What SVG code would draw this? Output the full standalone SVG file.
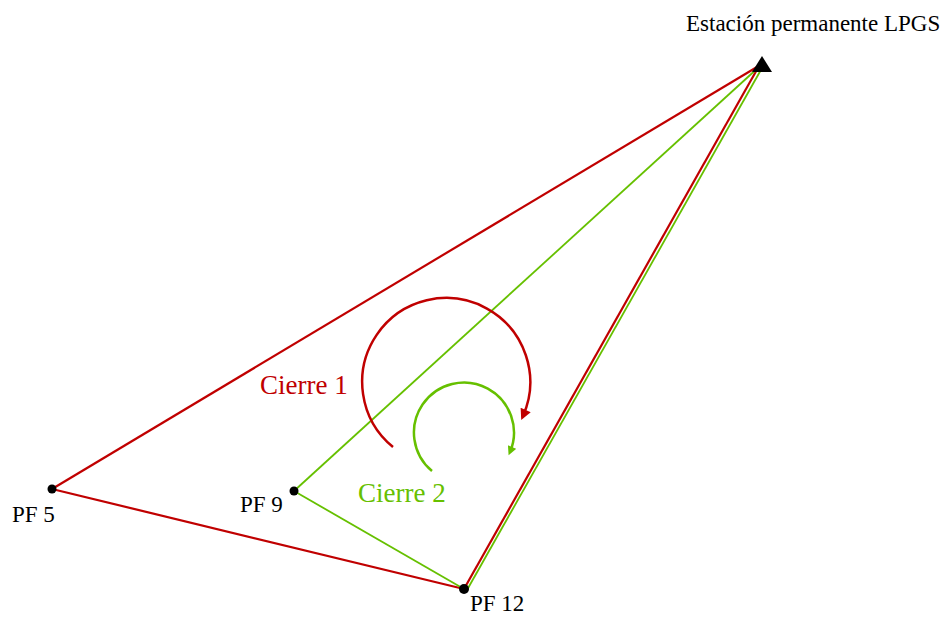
<svg xmlns="http://www.w3.org/2000/svg" width="945" height="617" viewBox="0 0 945 617">
<style>
.red{stroke:#c00000;stroke-width:2.2;fill:none}
.grn{stroke:#66c000;stroke-width:1.8;fill:none}
.lbl{font-family:"Liberation Serif",serif;fill:#000;font-size:23px}
.big{font-family:"Liberation Serif",serif;font-size:27px}
.pt{fill:#000}
</style>
<defs>
<marker id="ar" viewBox="0 0 10 10" refX="6" refY="5" markerWidth="12" markerHeight="11" orient="auto" markerUnits="userSpaceOnUse"><path d="M0,0 L10,5 L0,10 z" fill="#c00000"/></marker>
<marker id="ag" viewBox="0 0 10 10" refX="6" refY="5" markerWidth="10" markerHeight="9" orient="auto" markerUnits="userSpaceOnUse"><path d="M0,0 L10,5 L0,10 z" fill="#66c000"/></marker>
</defs>
<rect width="945" height="617" fill="#fff"/>
<g id="connectors">
<line class="red" x1="757" y1="67" x2="52" y2="489"/>
<line class="red" x1="52" y1="489" x2="464" y2="589"/>
<line class="red" x1="464" y1="589" x2="759" y2="66"/>
<line class="grn" x1="760" y1="66" x2="294" y2="491"/>
<line class="grn" x1="294" y1="491" x2="464" y2="589"/>
<line class="grn" x1="467" y1="590" x2="762" y2="68"/>
<path class="red" d="M393,447 A84,84 0 1 1 523,416" marker-end="url(#ar)" style="stroke-width:2.5"/>
<path class="grn" d="M432,471 A50,50 0 1 1 510,452" marker-end="url(#ag)" style="stroke-width:2.5"/>
</g>
<g id="lpgs">
<path class="pt" d="M762,56 L772,72 L752,72 z"/>
<text class="lbl" x="686" y="31">Estación permanente LPGS</text>
</g>
<g id="pf5">
<circle class="pt" cx="52" cy="489" r="4.5"/>
<text class="lbl" x="12" y="522">PF 5</text>
</g>
<g id="pf9">
<circle class="pt" cx="294" cy="491" r="4.5"/>
<text class="lbl" x="240" y="512">PF 9</text>
</g>
<g id="pf12">
<circle class="pt" cx="464" cy="589" r="5"/>
<text class="lbl" x="470" y="611">PF 12</text>
</g>
<g id="cierre1">
<text class="big" x="260" y="394" fill="#c00000">Cierre 1</text>
</g>
<g id="cierre2">
<text class="big" x="358" y="502" fill="#66c000">Cierre 2</text>
</g>
</svg>
